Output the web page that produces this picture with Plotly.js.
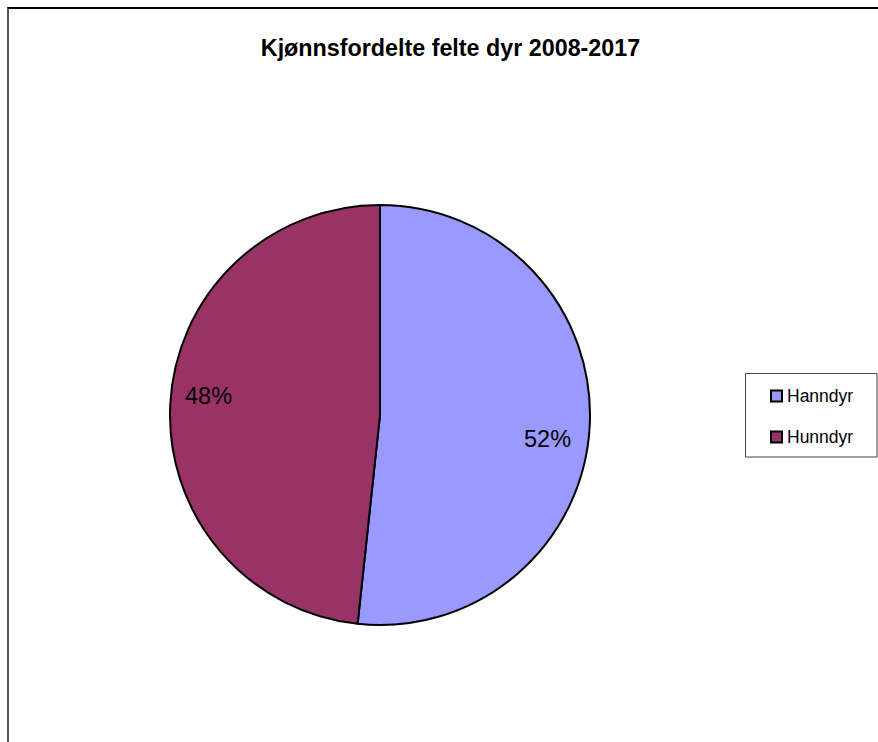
<!DOCTYPE html>
<html>
<head>
<meta charset="utf-8">
<script src="https://cdn.plot.ly/plotly-3.0.1.min.js"></script>
<style>
html,body{margin:0;padding:0;background:#fff;}
#frame{position:absolute;left:7px;top:7px;width:880px;height:740px;border-top:2px solid #000;border-left:2px solid #555;box-sizing:border-box;pointer-events:none;z-index:5;}
#chart{position:absolute;left:0;top:0;width:878px;height:742px;}
</style>
</head>
<body>
<div id="chart"></div>
<div id="frame"></div>
<script>
const labels = ["Hanndyr", "Hunndyr"];
const values = [51.7, 48.3];
const colors = ["#9999FF", "#993366"];
const titleText = "Kjønnsfordelte felte dyr 2008-2017";

const W = 878, H = 742;
const cx = 380, cy = 415, r = 210;
const FONT = "Liberation Sans, Arial, sans-serif";
const px = x => x / W, py = y => 1 - y / H;

// percentage labels placed along each slice's mid-angle (clockwise from 12 o'clock)
const total = values.reduce((a, b) => a + b, 0);
const annotations = [];
let acc = 0;
values.forEach((v, i) => {
  const mid = (acc + v / 2) / total * 2 * Math.PI;
  acc += v;
  const s = Math.sin(mid), c = Math.cos(mid);
  const lx = cx + 0.81 * r * s - 2, ly = cy - 0.81 * r * c;
  annotations.push({
    xref: "paper", yref: "paper", x: px(lx), y: py(ly),
    xanchor: "center", yanchor: s > 0 ? "top" : "bottom",
    yshift: s > 0 ? 0 : -5,
    text: Math.round(v / total * 100) + "%", showarrow: false,
    font: {family: FONT, size: 23.5, color: "#000"}
  });
});

// legend (box, swatches, labels)
const shapes = [{
  type: "rect", xref: "paper", yref: "paper",
  x0: px(745.5), x1: px(877), y0: py(373.5), y1: py(457),
  line: {color: "#444", width: 1}, fillcolor: "#fff", layer: "below"
}];
labels.forEach((lab, i) => {
  const yc = 396 + i * 41;
  shapes.push({
    type: "rect", xref: "paper", yref: "paper",
    x0: px(771), x1: px(782), y0: py(yc - 5.5), y1: py(yc + 5.5),
    line: {color: "#000", width: 2}, fillcolor: colors[i]
  });
  annotations.push({
    xref: "paper", yref: "paper", x: px(784.5), y: py(yc),
    xanchor: "left", yanchor: "middle", text: lab, showarrow: false,
    font: {family: FONT, size: 17.5, color: "#000"}
  });
});

Plotly.newPlot("chart", [{
  type: "pie",
  labels: labels,
  values: values,
  sort: false,
  direction: "clockwise",
  rotation: 0,
  marker: {colors: colors, line: {color: "#000", width: 2}},
  textinfo: "none",
  hoverinfo: "label+percent",
  domain: {x: [px(cx - r), px(cx + r)], y: [(H - cy - r) / H, (H - cy + r) / H]}
}], {
  width: W, height: H,
  margin: {l: 0, r: 0, t: 0, b: 0},
  paper_bgcolor: "#fff",
  title: {text: "<b>" + titleText + "</b>", x: px(450.5), xanchor: "center", y: py(48), yanchor: "middle",
          font: {family: FONT, size: 23.3, color: "#000"}},
  showlegend: false,
  shapes: shapes,
  annotations: annotations
}, {displayModeBar: false});
</script>
</body>
</html>
